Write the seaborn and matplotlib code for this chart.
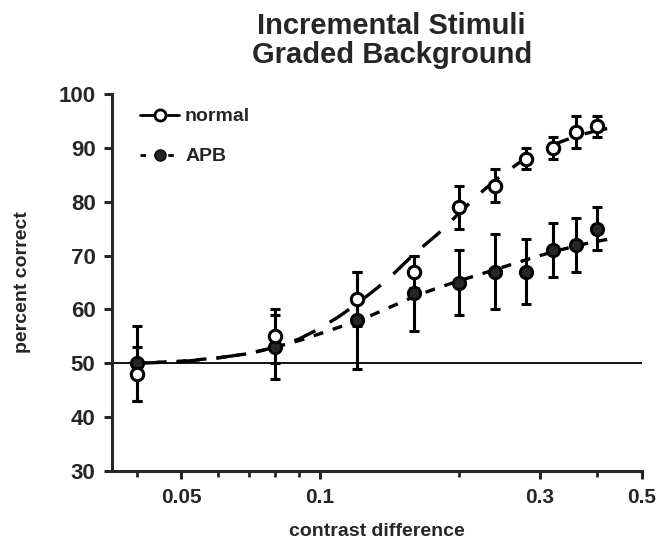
import numpy as np
import pandas as pd
import matplotlib
matplotlib.use("Agg")
import matplotlib.pyplot as plt
import seaborn as sns

# ---- data ----
contrast = [0.04, 0.08, 0.12, 0.16, 0.20, 0.24, 0.28, 0.32, 0.36, 0.40]
normal_pc = [48, 55, 62, 67, 79, 83, 88, 90, 93, 94]
normal_err = [5, 5, 5, 3, 4, 3, 2, 2, 3, 2]
apb_pc = [50, 53, 58, 63, 65, 67, 67, 71, 72, 75]
apb_err = [7, 6, 9, 7, 6, 7, 6, 5, 5, 4]

fit_x = [0.04, 0.05, 0.06, 0.07, 0.08, 0.09, 0.10, 0.11, 0.12, 0.13, 0.14,
         0.16, 0.18, 0.20, 0.22, 0.24, 0.27, 0.30, 0.33, 0.36, 0.39, 0.42]
fit_normal = [50.0, 50.3, 51.0, 51.8, 53.0, 54.5, 56.5, 58.7, 61.0, 63.3, 65.5,
              70.3, 74.0, 77.8, 81.2, 84.0, 87.2, 89.5, 91.0, 92.2, 93.0, 93.6]
fit_apb = [50.0, 50.4, 51.0, 51.8, 53.0, 54.2, 55.5, 56.7, 57.8, 59.0, 60.2,
           62.4, 64.0, 65.3, 66.4, 67.4, 68.8, 70.0, 71.0, 71.8, 72.5, 73.0]

xticks = [0.05, 0.1, 0.3, 0.5]
xtick_labels = ["0.05", "0.1", "0.3", "0.5"]
yticks = [30, 40, 50, 60, 70, 80, 90, 100]

title = "Incremental Stimuli\nGraded Background"
xlabel = "contrast difference"
ylabel = "percent correct"

# ---- plotting ----
sns.set_style("ticks")
plt.rcParams['font.family'] = ['Liberation Sans', 'DejaVu Sans']
plt.rcParams['font.weight'] = 'bold'

fig = plt.figure(figsize=(6.64, 5.47), dpi=100)
ax = fig.add_axes([0.169, 0.139, 0.798, 0.689])

fit_df = pd.DataFrame({"x": fit_x, "normal": fit_normal, "APB": fit_apb})

sns.lineplot(data=fit_df, x="x", y="normal", ax=ax, color="black", lw=2.4,
             linestyle=(0, (7, 5)), legend=False)
sns.lineplot(data=fit_df, x="x", y="APB", ax=ax, color="black", lw=2.4,
             linestyle=(0, (3, 3)), legend=False)

ax.axhline(50, color="black", lw=1.3, zorder=1)

ax.errorbar(contrast, apb_pc, yerr=apb_err, fmt="none", ecolor="black",
            elinewidth=2.2, capsize=3.5, capthick=2.2, zorder=3)
ax.errorbar(contrast, normal_pc, yerr=normal_err, fmt="none", ecolor="black",
            elinewidth=2.2, capsize=3.5, capthick=2.2, zorder=3)

pts = pd.DataFrame({"x": contrast, "normal": normal_pc, "APB": apb_pc})
sns.scatterplot(data=pts, x="x", y="APB", ax=ax, marker="o", s=80,
                color="#262626", edgecolor="black", linewidth=2.0, zorder=4,
                legend=False)
sns.scatterplot(data=pts, x="x", y="normal", ax=ax, marker="o", s=80,
                color="white", edgecolor="black", linewidth=2.2, zorder=5,
                legend=False)

ax.set_xscale("log")
ax.set_xlim(0.0354, 0.5)
ax.set_ylim(30, 100)
ax.set_xticks(xticks)
ax.set_xticklabels(xtick_labels)
ax.set_xticks([0.04, 0.06, 0.07, 0.08, 0.09, 0.2, 0.4], minor=True)
ax.xaxis.set_minor_formatter(matplotlib.ticker.NullFormatter())
ax.set_yticks(yticks)
ax.set_yticklabels([str(v) for v in yticks])

for s in ["top", "right"]:
    ax.spines[s].set_visible(False)
for s in ["left", "bottom"]:
    ax.spines[s].set_linewidth(2.2)
ax.tick_params(axis="both", which="major", direction="out", length=6, width=2.2,
               labelsize=16, pad=6)
ax.tick_params(axis="x", which="major", labelsize=15)
ax.tick_params(axis="x", which="minor", direction="out", length=4, width=2)
for lbl in ax.get_xticklabels() + ax.get_yticklabels():
    lbl.set_fontweight("bold")

ax.set_xlabel(xlabel, fontsize=14, fontweight="bold", labelpad=12)
ax.set_ylabel(ylabel, fontsize=14, fontweight="bold", labelpad=20)

fig.text(0.59, 0.978, title, ha="center", va="top", fontsize=21,
         fontweight="bold", linespacing=1.05)

from matplotlib.lines import Line2D
handles = [
    Line2D([], [], color="black", lw=2.0, marker="o", markersize=8,
           markerfacecolor="white", markeredgecolor="black", markeredgewidth=2.0),
    Line2D([], [], color="black", lw=2.0, linestyle=(0, (2, 3)), marker="o",
           markersize=8, markerfacecolor="#262626", markeredgecolor="black"),
]
leg = ax.legend(handles, ["normal", "APB"], loc="upper left",
                bbox_to_anchor=(0.02, 1.01), frameon=False, handlelength=2.0,
                handletextpad=0.3, labelspacing=1.15,
                prop={"weight": "bold", "size": 14})

fig.savefig("out.png", dpi=100)
